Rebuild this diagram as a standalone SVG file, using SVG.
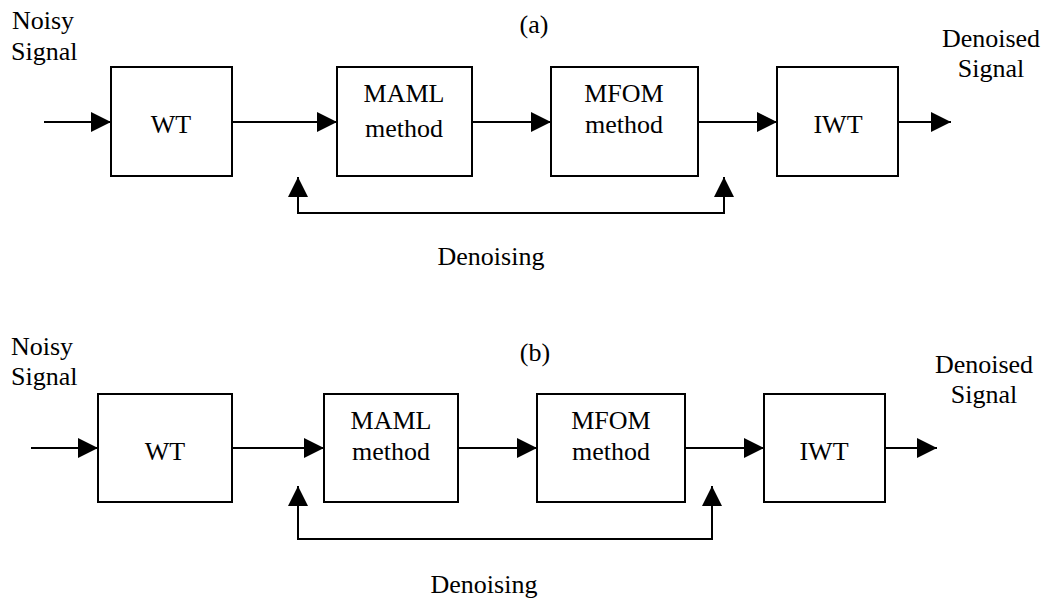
<svg xmlns="http://www.w3.org/2000/svg" width="1050" height="599" viewBox="0 0 1050 599">
<defs>
<marker id="ah" markerUnits="userSpaceOnUse" markerWidth="20" markerHeight="20" refX="20" refY="10" orient="auto-start-reverse" viewBox="0 0 20 20">
<path d="M0,0 L20,10 L0,20 Z" fill="#000"/>
</marker>
</defs>
<style>
.box{fill:#fff;stroke:#000;stroke-width:2}
.ln{fill:none;stroke:#000;stroke-width:2;marker-end:url(#ah)}
.fb{fill:none;stroke:#000;stroke-width:2;marker-start:url(#ah);marker-end:url(#ah)}
.t{font-family:'Liberation Serif','Times New Roman','DejaVu Serif',serif;font-size:26px;fill:#000}
.c{text-anchor:middle}
</style>
<rect width="1050" height="599" fill="#fff"/>
<g class="t" font-family="Liberation Serif, Times New Roman, serif" font-size="26">

<!-- Panel (a) -->
<g id="labels-a">
<text x="12" y="29">Noisy</text>
<text x="11" y="60">Signal</text>
<text class="c" x="534" y="33">(a)</text>
<text class="c" x="991" y="47">Denoised</text>
<text class="c" x="991" y="77">Signal</text>
<text class="c" x="491" y="265">Denoising</text>
</g>
<g id="wt-a"><rect class="box" x="111" y="67" width="121" height="109"/><text class="c" x="171" y="133">WT</text></g>
<g id="maml-a"><rect class="box" x="337" y="67" width="135" height="109"/><text class="c" x="404" y="102">MAML</text><text class="c" x="404" y="137">method</text></g>
<g id="mfom-a"><rect class="box" x="551" y="67" width="147" height="109"/><text class="c" x="624" y="102">MFOM</text><text class="c" x="624" y="133">method</text></g>
<g id="iwt-a"><rect class="box" x="777" y="67" width="121" height="109"/><text class="c" x="838" y="133">IWT</text></g>

<!-- Panel (b) -->
<g id="labels-b">
<text x="11" y="355">Noisy</text>
<text x="11" y="385">Signal</text>
<text class="c" x="535" y="361">(b)</text>
<text class="c" x="984" y="373">Denoised</text>
<text class="c" x="984" y="403">Signal</text>
<text class="c" x="484" y="593">Denoising</text>
</g>
<g id="wt-b"><rect class="box" x="98" y="394" width="134" height="108"/><text class="c" x="165" y="460">WT</text></g>
<g id="maml-b"><rect class="box" x="324" y="394" width="134" height="108"/><text class="c" x="391" y="429">MAML</text><text class="c" x="391" y="460">method</text></g>
<g id="mfom-b"><rect class="box" x="537" y="394" width="148" height="108"/><text class="c" x="611" y="429">MFOM</text><text class="c" x="611" y="460">method</text></g>
<g id="iwt-b"><rect class="box" x="764" y="394" width="121" height="108"/><text class="c" x="824" y="460">IWT</text></g>
</g>

<g id="connectors">
<line class="ln" x1="44" y1="122" x2="111" y2="122"/>
<line class="ln" x1="232" y1="122" x2="337" y2="122"/>
<line class="ln" x1="472" y1="122" x2="551" y2="122"/>
<line class="ln" x1="698" y1="122" x2="777" y2="122"/>
<line class="ln" x1="898" y1="122" x2="951" y2="122"/>
<path class="fb" d="M298,177 V213 H724 V177"/>

<line class="ln" x1="31" y1="448" x2="98" y2="448"/>
<line class="ln" x1="232" y1="448" x2="324" y2="448"/>
<line class="ln" x1="458" y1="448" x2="537" y2="448"/>
<line class="ln" x1="685" y1="448" x2="764" y2="448"/>
<line class="ln" x1="885" y1="448" x2="937" y2="448"/>
<path class="fb" d="M298,486 V539 H712 V486"/>
</g>
</svg>
